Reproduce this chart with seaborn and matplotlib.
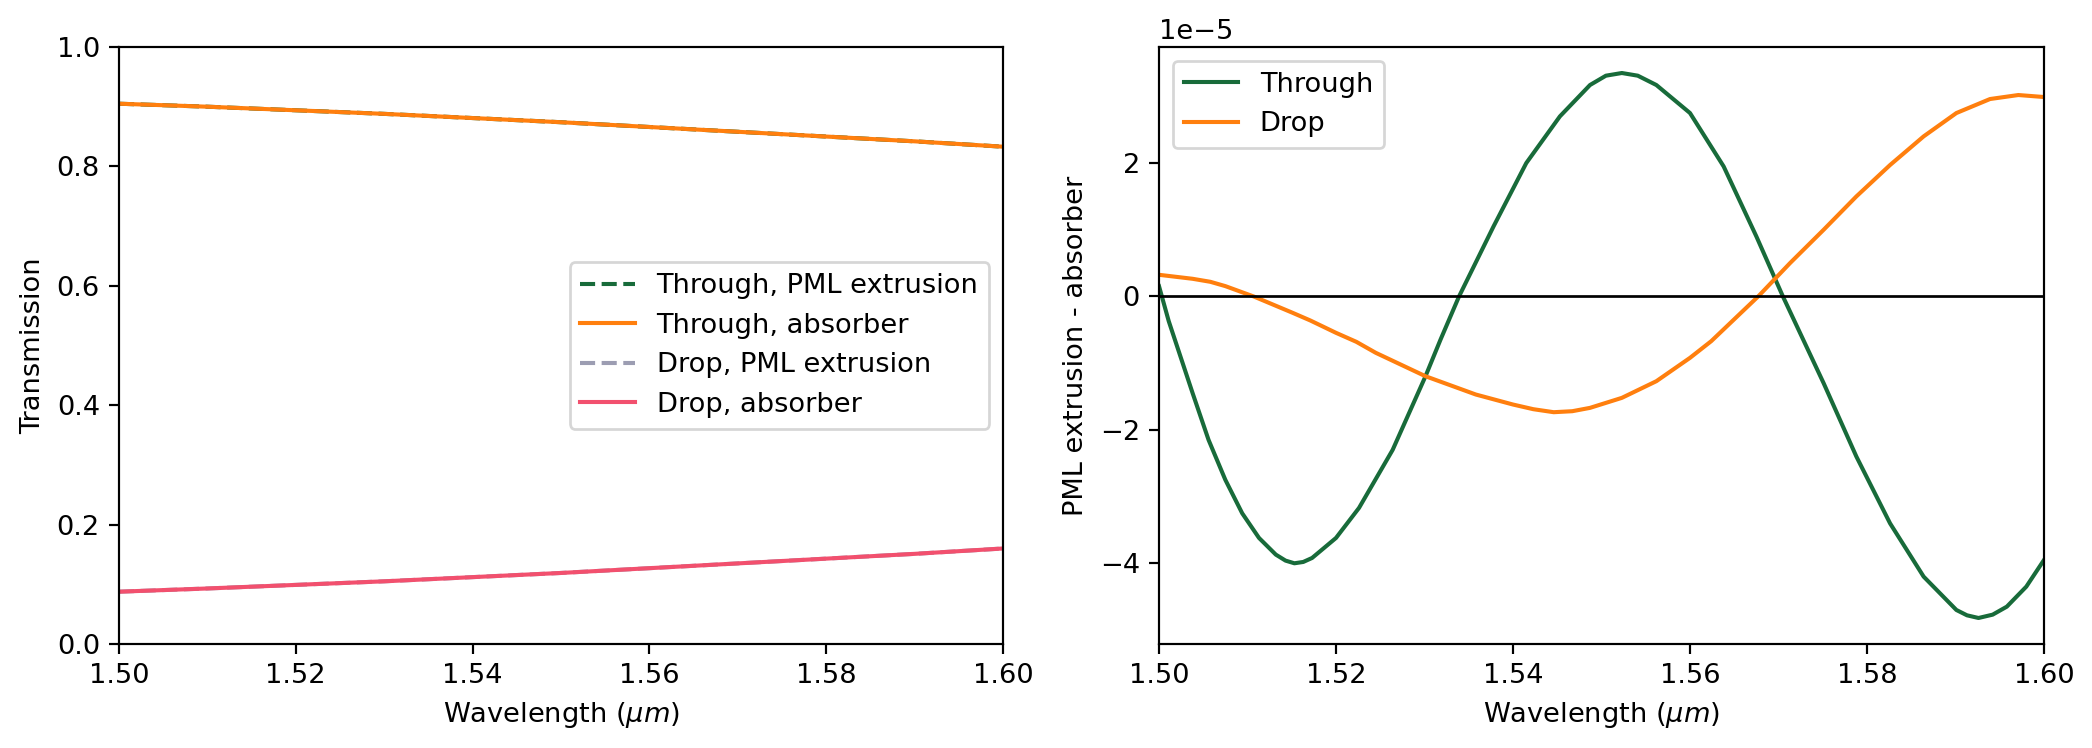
import numpy as np
import pandas as pd
import matplotlib
matplotlib.use("Agg")
import matplotlib.pyplot as plt
import seaborn as sns

# ---- Left panel data: transmission ----
wl_t = [1.50, 1.51, 1.52, 1.53, 1.54, 1.55, 1.56, 1.57, 1.58, 1.59, 1.60]
through_pml = [0.905, 0.900, 0.894, 0.888, 0.881, 0.874, 0.866, 0.858, 0.850, 0.842, 0.833]
through_abs = [0.905, 0.900, 0.894, 0.888, 0.881, 0.874, 0.866, 0.858, 0.850, 0.842, 0.833]
drop_pml = [0.0876, 0.093, 0.099, 0.105, 0.112, 0.119, 0.127, 0.135, 0.143, 0.151, 0.160]
drop_abs = [0.0876, 0.093, 0.099, 0.105, 0.112, 0.119, 0.127, 0.135, 0.143, 0.151, 0.160]

# ---- Right panel data: difference (units of 1e-5) ----
wl_thr = [1.5000, 1.5011, 1.5023, 1.5038, 1.5056, 1.5075, 1.5094, 1.5113, 1.5132,
          1.5143, 1.5153, 1.5163, 1.5173, 1.5200, 1.5226, 1.5264, 1.5301, 1.5318,
          1.5339, 1.5365, 1.5378, 1.5415, 1.5453, 1.5487, 1.5505, 1.5523, 1.5541,
          1.5562, 1.5600, 1.5638, 1.5675, 1.5705, 1.5728, 1.5751, 1.5788, 1.5826,
          1.5864, 1.5901, 1.5913, 1.5926, 1.5942, 1.5958, 1.5980, 1.6000]
diff_through = [0.155, -0.37, -0.85, -1.45, -2.15, -2.75, -3.25, -3.62, -3.87,
                -3.96, -4.00, -3.98, -3.92, -3.62, -3.17, -2.30, -1.20, -0.65,
                0.00, 0.70, 1.05, 2.00, 2.70, 3.17, 3.31, 3.35, 3.31,
                3.17, 2.75, 1.95, 0.90, 0.00, -0.65, -1.30, -2.40, -3.40,
                -4.20, -4.70, -4.78, -4.82, -4.77, -4.65, -4.35, -3.95]

wl_drop = [1.5000, 1.5038, 1.5058, 1.5075, 1.5107, 1.5151, 1.5171, 1.5200, 1.5223,
           1.5245, 1.5301, 1.5358, 1.5400, 1.5423, 1.5446, 1.5467, 1.5487, 1.5523,
           1.5562, 1.5600, 1.5624, 1.5677, 1.5713, 1.5751, 1.5788, 1.5826, 1.5864,
           1.5901, 1.5939, 1.5971, 1.6000]
diff_drop = [0.325, 0.265, 0.22, 0.155, 0.00, -0.245, -0.36, -0.545, -0.68,
             -0.845, -1.195, -1.47, -1.62, -1.69, -1.735, -1.72, -1.67, -1.52,
             -1.27, -0.92, -0.67, 0.00, 0.50, 1.00, 1.50, 1.97, 2.40,
             2.75, 2.96, 3.02, 2.99]
scale = 1e-5
wl_ticks = [1.50, 1.52, 1.54, 1.56, 1.58, 1.60]
diff_ticks = [-4, -2, 0, 2]

c_green = "#186b3a"
c_orange = "#ff7f0e"
c_grey = "#9c9db2"
c_pink = "#f2506e"

DPI = 196
fig = plt.figure(figsize=(2092 / DPI, 748 / DPI), dpi=DPI)
ax1 = fig.add_axes([119 / 2092, 1 - 644 / 748, (1003 - 119) / 2092, (644 - 47) / 748])
ax2 = fig.add_axes([1159 / 2092, 1 - 644 / 748, (2044 - 1159) / 2092, (644 - 47) / 748])

sns.lineplot(x=wl_t, y=through_pml, ax=ax1, color=c_green, linestyle="--", lw=1.5,
             label="Through, PML extrusion")
sns.lineplot(x=wl_t, y=through_abs, ax=ax1, color=c_orange, lw=1.5,
             label="Through, absorber")
sns.lineplot(x=wl_t, y=drop_pml, ax=ax1, color=c_grey, linestyle="--", lw=1.5,
             label="Drop, PML extrusion")
sns.lineplot(x=wl_t, y=drop_abs, ax=ax1, color=c_pink, lw=1.5,
             label="Drop, absorber")
ax1.set_xlim(1.50, 1.60)
ax1.set_ylim(0, 1)
ax1.set_xticks(wl_ticks)
ax1.set_xlabel(r"Wavelength ($\mu m$)")
ax1.set_ylabel("Transmission")
ax1.legend(loc="center right")

sns.lineplot(x=wl_thr, y=np.array(diff_through) * scale, ax=ax2, color=c_green, lw=1.5,
             label="Through")
sns.lineplot(x=wl_drop, y=np.array(diff_drop) * scale, ax=ax2, color=c_orange, lw=1.5,
             label="Drop")
ax2.axhline(0, color="k", lw=1)
ax2.set_xlim(1.50, 1.60)
ax2.set_ylim(-5.21e-5, 3.74e-5)
ax2.set_xticks(wl_ticks)
ax2.set_yticks(np.array(diff_ticks) * scale)
ax2.set_xlabel(r"Wavelength ($\mu m$)")
ax2.set_ylabel("PML extrusion - absorber")
ax2.legend(loc="upper left")

for ax in (ax1, ax2):
    ax.xaxis.set_major_formatter(matplotlib.ticker.FormatStrFormatter("%.2f"))

fig.savefig("out.png", dpi=DPI)
